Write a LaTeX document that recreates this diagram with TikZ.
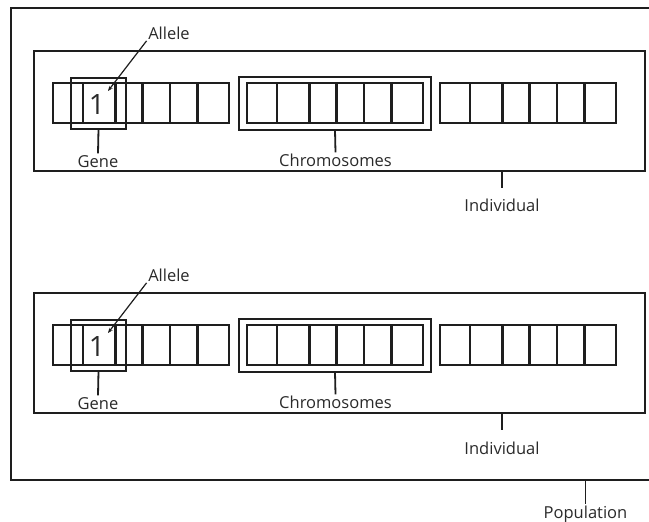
\documentclass[tikz,border=0pt]{standalone}
\usepackage{fontspec}
\setmainfont{Open Sans}
\usetikzlibrary{arrows.meta}
\definecolor{ink}{HTML}{1E1E1E}
\definecolor{txt}{HTML}{2A2A2A}
\begin{document}
\begin{tikzpicture}[x=1pt,y=-1pt,
  frame/.style={draw=ink,line width=2.4pt,inner sep=0pt,outer sep=0pt},
  cellbox/.style={draw=ink,line width=2.1pt,inner sep=0pt,outer sep=0pt,minimum height=40pt},
  genebox/.style={draw=ink,line width=1.5pt,inner sep=0pt,outer sep=0pt,minimum width=55pt,minimum height=51pt},
  lbl/.style={text=txt,font=\fontsize{16.5}{18}\selectfont,inner sep=1.5pt,anchor=base},
  tick/.style={draw=ink,line width=1.8pt},
  arr/.style={draw=ink,line width=1.2pt,-{Stealth[length=5pt,width=4pt]}}
]
\useasboundingbox (0,0) rectangle (649,522);
\clip (0,0) rectangle (649,522);
\fill[white] (0,0) rectangle (649,522);

% population
\node[frame,line width=2.6pt,minimum width=649pt,minimum height=472pt] (pop) at (335.5,244) {};
\node[lbl] (popl) at (585.5,518.5) {Population};
\draw[tick] (pop.south -| popl.north) -- (popl.north);

\foreach \s/\o/\ib in {a/0/211.7,b/242/454.5} {
  % individual
  \node[frame,minimum width=611pt,minimum height=120pt] (ind\s) at (339.5,111+\o) {};
  \node[lbl] (indl\s) at (502,\ib) {Individual};
  \draw[tick] (ind\s.south -| indl\s.north) -- ++(0,17);
  % chromosome cells
  \foreach \c/\x in {1/53,2/247,3/440} {
    \foreach \i/\l/\r in {1/0/30,2/30/62.5,3/62.5/89.5,4/89.5/117,5/117/144.5,6/144.5/176} {
      \node[cellbox,minimum width={\r-\l}] (cell\s\c\i) at ({\x+(\l+\r)/2},103+\o) {};
    }
  }
  % double frame around second chromosome
  \node[frame,minimum width=192pt,minimum height=53pt] (chr\s) at (335,103.5+\o) {};
  \node[lbl] (chrl\s) at (335.5,166.7+\o) {Chromosomes};
  \draw[tick] (chr\s.south) -- (chrl\s.north);
  % gene
  \node[genebox] (gene\s) at (98.5,103.5+\o) {};
  \node[text=txt,font=\fontsize{28}{30}\selectfont,inner sep=0pt,anchor=base] (one\s) at (97,114.5+\o) {1};
  \node[lbl] (genel\s) at (98,167+\o) {Gene};
  \draw[tick] (gene\s.south) -- (genel\s.north);
  % allele
  \node[lbl] (allele\s) at (169,39+\o) {Allele};
  \coordinate (tip\s) at (108,91+\o);
  \draw[arr] (allele\s.south west) -- (tip\s);
}
\end{tikzpicture}
\end{document}
